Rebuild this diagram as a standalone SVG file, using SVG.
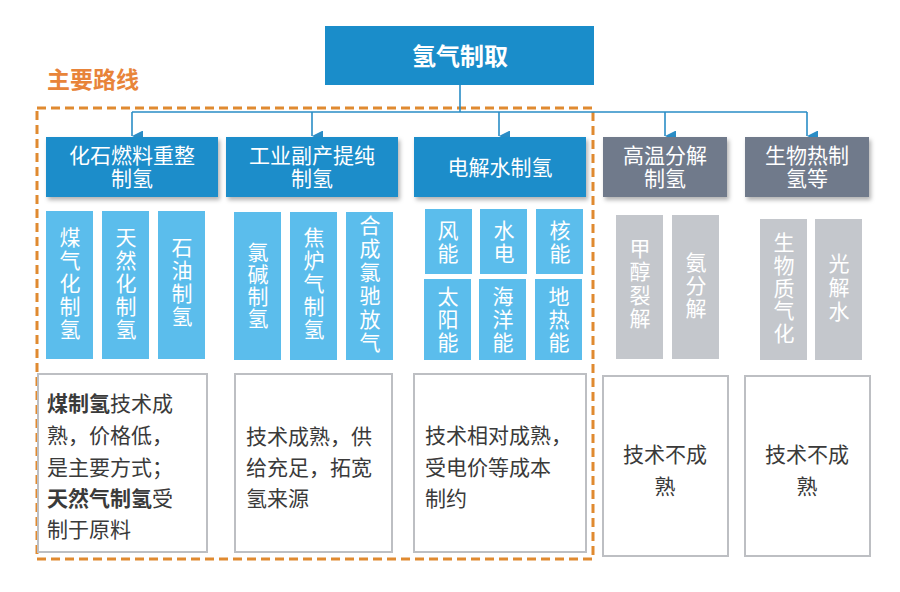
<svg xmlns="http://www.w3.org/2000/svg" width="900" height="592" viewBox="0 0 900 592">
<defs>
<style>
text{font-family:"Noto Sans CJK SC","Noto Sans",sans-serif;dominant-baseline:central}
.l1{fill:#1A8DCA}
.l2{fill:#1A8DCA;filter:url(#sh)}
.l2g{fill:#6F7A8B;filter:url(#sh)}
.l3{fill:#5BBDEC}
.l3g{fill:#C4C7CC}
.l4{fill:#fff;stroke:#BDBFC3;stroke-width:2}
.wt{fill:#fff;font-size:21px;text-anchor:middle}
.vt{fill:#fff;font-size:21px;writing-mode:vertical-rl;text-anchor:start;letter-spacing:2px}
.dt{fill:#3A3A3A;font-size:21px}
.conn{stroke:#2A8DC6;stroke-width:1.6;fill:none}
</style>
<filter id="sh" x="-10%" y="-10%" width="125%" height="140%">
<feDropShadow dx="2" dy="3" stdDeviation="2" flood-color="#000" flood-opacity="0.3"/>
</filter>
<marker id="arr" viewBox="0 0 10 10" refX="5" refY="10" markerWidth="11" markerHeight="13" markerUnits="userSpaceOnUse" orient="auto-start-reverse">
<path d="M0,0 L10,0 L5,10 Z" fill="#2A8DC6"/>
</marker>
</defs>
<rect width="900" height="592" fill="#fff"/>

<g id="main-route">
<rect x="37" y="108" width="556" height="451" fill="none" stroke="#E08A30" stroke-width="3" stroke-dasharray="9,5"/>
<text x="47" y="78" style="fill:#E8843A;font-size:23px;font-weight:bold">主要路线</text>
</g>

<g id="connectors">
<path class="conn" d="M460,85 V112 M132,112 H807"/>
<path class="conn" d="M132,112 V136" marker-end="url(#arr)"/>
<path class="conn" d="M312,112 V136" marker-end="url(#arr)"/>
<path class="conn" d="M499,112 V136" marker-end="url(#arr)"/>
<path class="conn" d="M665,112 V136" marker-end="url(#arr)"/>
<path class="conn" d="M807,112 V136" marker-end="url(#arr)"/>
</g>

<g id="root">
<rect class="l1" x="325" y="26" width="269" height="59"/>
<text x="460" y="54" style="fill:#fff;font-size:24px;font-weight:bold;text-anchor:middle">氢气制取</text>
</g>

<g id="fossil">
<rect class="l2" x="46" y="137" width="172" height="60"/>
<text class="wt" x="132" y="154">化石燃料重整<tspan x="132" y="177">制氢</tspan></text>
</g>
<g id="industrial">
<rect class="l2" x="226" y="137" width="172" height="60"/>
<text class="wt" x="312" y="154">工业副产提纯<tspan x="312" y="177">制氢</tspan></text>
</g>
<g id="electrolysis">
<rect class="l2" x="414" y="137" width="172" height="60"/>
<text class="wt" x="500" y="166">电解水制氢</text>
</g>
<g id="thermal">
<rect class="l2g" x="603" y="137" width="124" height="60"/>
<text class="wt" x="665" y="154">高温分解<tspan x="665" y="177">制氢</tspan></text>
</g>
<g id="bio">
<rect class="l2g" x="745" y="137" width="124" height="60"/>
<text class="wt" x="807" y="154">生物热制<tspan x="807" y="177">氢等</tspan></text>
</g>

<g id="coal">
<rect class="l3" x="46" y="211" width="47" height="148"/>
<text class="vt" x="70" y="226.5">煤气化制氢</text>
</g>
<g id="gas">
<rect class="l3" x="102" y="211" width="47" height="148"/>
<text class="vt" x="126" y="226.5">天然化制氢</text>
</g>
<g id="oil">
<rect class="l3" x="158" y="211" width="47" height="148"/>
<text class="vt" x="182" y="236.5">石油制氢</text>
</g>

<g id="chloralkali">
<rect class="l3" x="234" y="212" width="47" height="148"/>
<text class="vt" x="258" y="241.5" style="letter-spacing:1px">氯碱制氢</text>
</g>
<g id="coke">
<rect class="l3" x="290" y="212" width="47" height="148"/>
<text class="vt" x="314" y="226.5">焦炉气制氢</text>
</g>
<g id="ammonia-purge">
<rect class="l3" x="346" y="212" width="47" height="148"/>
<text class="vt" x="370" y="214.5" style="letter-spacing:2.4px">合成氯驰放气</text>
</g>

<g id="wind">
<rect class="l3" x="425" y="209" width="47" height="65"/>
<text class="vt" x="448" y="219.5">风能</text>
</g>
<g id="hydro">
<rect class="l3" x="480" y="209" width="47" height="65"/>
<text class="vt" x="504" y="219.5">水电</text>
</g>
<g id="nuclear">
<rect class="l3" x="536" y="209" width="47" height="65"/>
<text class="vt" x="560" y="219.5">核能</text>
</g>
<g id="solar">
<rect class="l3" x="424" y="279" width="47" height="81"/>
<text class="vt" x="448" y="285.5">太阳能</text>
</g>
<g id="ocean">
<rect class="l3" x="479" y="279" width="47" height="81"/>
<text class="vt" x="503" y="285.5">海洋能</text>
</g>
<g id="geothermal">
<rect class="l3" x="535" y="279" width="47" height="81"/>
<text class="vt" x="559" y="285.5">地热能</text>
</g>

<g id="methanol">
<rect class="l3g" x="616" y="215" width="47" height="144"/>
<text class="vt" x="640" y="237.5" style="letter-spacing:2.3px">甲醇裂解</text>
</g>
<g id="ammonia">
<rect class="l3g" x="672" y="215" width="47" height="144"/>
<text class="vt" x="696" y="251.5">氨分解</text>
</g>
<g id="biomass">
<rect class="l3g" x="760" y="219" width="47" height="141"/>
<text class="vt" x="784" y="231.5" style="letter-spacing:1.8px">生物质气化</text>
</g>
<g id="photolysis">
<rect class="l3g" x="815" y="219" width="47" height="141"/>
<text class="vt" x="839" y="252.5" style="letter-spacing:3px">光解水</text>
</g>

<g id="note-fossil">
<rect class="l4" x="38" y="374" width="169" height="178"/>
<text class="dt" x="47" y="402"><tspan font-weight="bold">煤制氢</tspan>技术成</text>
<text class="dt" x="47" y="434">熟，价格低，</text>
<text class="dt" x="47" y="466">是主要方式；</text>
<text class="dt" x="47" y="497"><tspan font-weight="bold">天然气制氢</tspan>受</text>
<text class="dt" x="47" y="528">制于原料</text>
</g>
<g id="note-industrial">
<rect class="l4" x="235" y="374" width="157" height="178"/>
<text class="dt" x="246" y="435">技术成熟，供</text>
<text class="dt" x="246" y="466">给充足，拓宽</text>
<text class="dt" x="246" y="497">氢来源</text>
</g>
<g id="note-electrolysis">
<rect class="l4" x="414" y="374" width="172" height="178"/>
<text class="dt" x="425" y="434">技术相对成熟，</text>
<text class="dt" x="425" y="466">受电价等成本</text>
<text class="dt" x="425" y="497">制约</text>
</g>
<g id="note-thermal">
<rect class="l4" x="603" y="376" width="125" height="180"/>
<text class="dt" x="665" y="453" text-anchor="middle">技术不成</text>
<text class="dt" x="665" y="485" text-anchor="middle">熟</text>
</g>
<g id="note-bio">
<rect class="l4" x="745" y="376" width="125" height="180"/>
<text class="dt" x="807" y="453" text-anchor="middle">技术不成</text>
<text class="dt" x="807" y="485" text-anchor="middle">熟</text>
</g>
</svg>
